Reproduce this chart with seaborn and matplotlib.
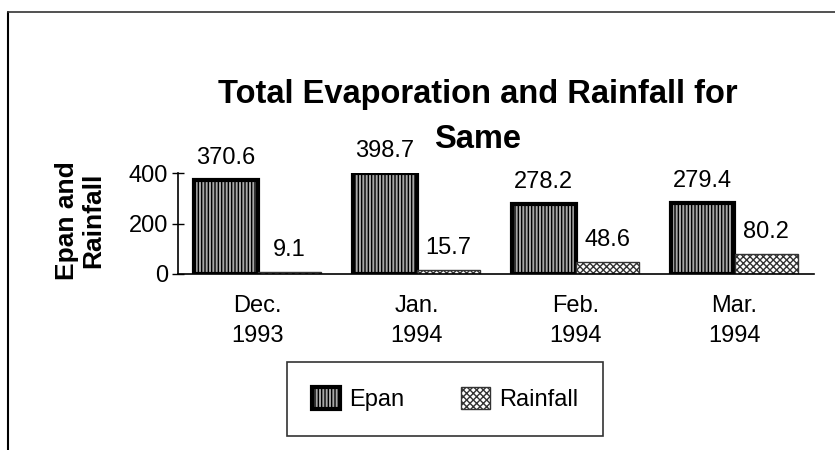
import pandas as pd
import matplotlib
matplotlib.use("Agg")
import matplotlib.pyplot as plt
from matplotlib.patches import Patch
from matplotlib.lines import Line2D
import seaborn as sns

months = ["Dec.\n1993", "Jan.\n1994", "Feb.\n1994", "Mar.\n1994"]
epan = [370.6, 398.7, 278.2, 279.4]
rainfall = [9.1, 15.7, 48.6, 80.2]
series = ["Epan", "Rainfall"]

df = pd.DataFrame({
    "month": months * 2,
    "value": epan + rainfall,
    "series": ["Epan"] * len(months) + ["Rainfall"] * len(months),
})

sns.set_theme(style="white")
plt.rcParams["font.family"] = ["Liberation Sans", "DejaVu Sans"]
plt.rcParams["hatch.linewidth"] = 1.0
plt.rcParams["text.color"] = "black"
plt.rcParams["axes.labelcolor"] = "black"
plt.rcParams["xtick.color"] = "black"
plt.rcParams["ytick.color"] = "black"

fig = plt.figure(figsize=(8.35, 4.5), dpi=100)
ax = fig.add_axes([178 / 835, 1 - 274 / 450, 636 / 835, 101 / 450])

sns.barplot(data=df, x="month", y="value", hue="series", order=months,
            hue_order=series, palette=["#b0b0b0", "white"], width=0.8,
            legend=False, ax=ax)

# bar styles: Epan = thick black border + vertical hatch, Rainfall = crosshatch
epan_style = dict(facecolor="#a8a8a8", edgecolor="black", hatch="|||||", linewidth=3)
rain_style = dict(facecolor="white", edgecolor="#333333", hatch="xxxxx", linewidth=1)
for bar in ax.containers[0]:
    bar.set(**epan_style)
for bar in ax.containers[1]:
    bar.set(**rain_style)

for cont in ax.containers:
    labels = ax.bar_label(cont, fmt="%.1f", padding=8, fontsize=17)
    for t in labels:
        t.set_clip_on(False)

ax.set_ylim(0, 400)
ax.set_xlim(-0.5, 3.5)
ax.set_yticks([0, 200, 400])
ax.set_xticks(range(len(months)))
ax.set_xticklabels(months, fontsize=17, linespacing=1.5)
ax.set_xticks([-0.5, 0.5, 1.5, 2.5, 3.5], minor=True)
ax.tick_params(axis="x", which="major", length=0, pad=15)
ax.tick_params(axis="x", which="minor", length=10, width=1, direction="inout")
ax.tick_params(axis="y", length=8, width=1, direction="inout", labelsize=17, pad=3, left=True)
ax.set_xlabel("")
ax.set_ylabel("Epan and\nRainfall", fontsize=19, fontweight="bold", linespacing=1.1)
ax.yaxis.set_label_coords(-0.115, 0.53)

for s in ["top", "right"]:
    ax.spines[s].set_visible(False)
for s in ["left", "bottom"]:
    ax.spines[s].set_color("black")
    ax.spines[s].set_linewidth(1.2)
ax.set_facecolor("white")

# two-line title, each line placed on its own
fig.text(478 / 835, 1 - 95 / 450, "Total Evaporation and Rainfall for",
         ha="center", va="center", fontsize=23.5, fontweight="bold")
fig.text(478 / 835, 1 - 139 / 450, "Same",
         ha="center", va="center", fontsize=23.5, fontweight="bold")

handles = [Patch(**epan_style, label="Epan"), Patch(**rain_style, label="Rainfall")]
leg = fig.legend(handles=handles, loc="center", bbox_to_anchor=(445 / 835, 1 - 399 / 450),
                 ncol=2, fontsize=17, frameon=True, fancybox=False, edgecolor="black",
                 handlelength=1.2, handleheight=1.1, handletextpad=0.4, columnspacing=2.4,
                 borderpad=1.05)
leg.get_frame().set_linewidth(1.2)

# outer frame of the scanned chart
fig.add_artist(Line2D([8 / 835, 8 / 835], [0, 1 - 12 / 450], color="black", lw=1.5,
                      transform=fig.transFigure))
fig.add_artist(Line2D([8 / 835, 1], [1 - 12 / 450, 1 - 12 / 450], color="#333333", lw=1.2,
                      transform=fig.transFigure))

fig.savefig("out.png", dpi=100, facecolor="white")
